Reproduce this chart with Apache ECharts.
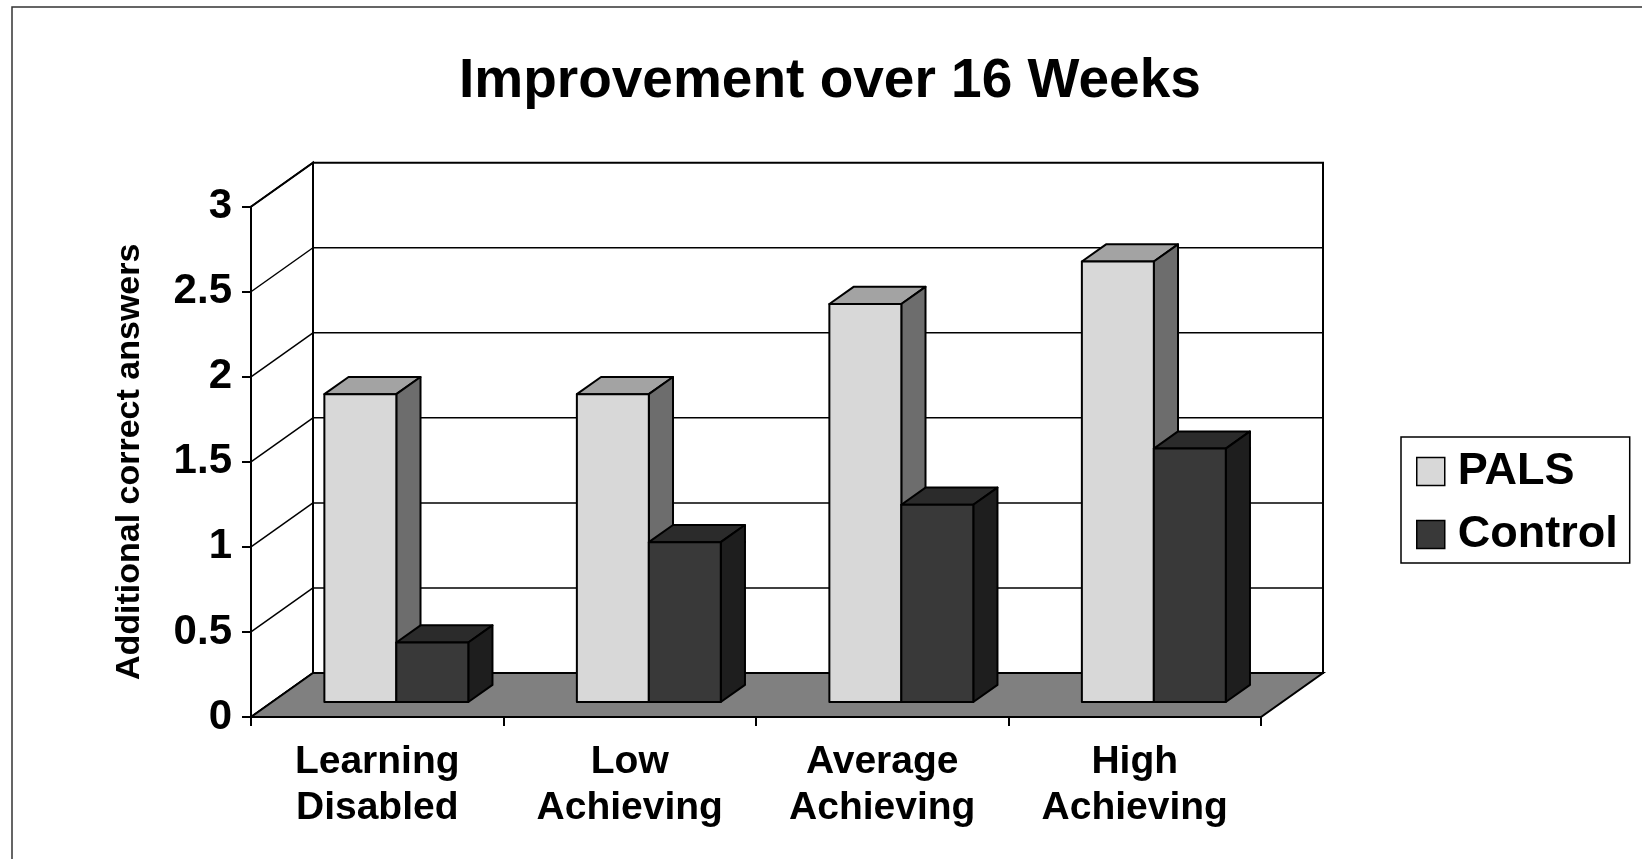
<!DOCTYPE html>
<html>
<head>
<meta charset="utf-8">
<title>Improvement over 16 Weeks</title>
<script src="https://cdn.jsdelivr.net/npm/echarts@6/dist/echarts.min.js"></script>
<style>
html, body { margin: 0; padding: 0; background: #fff; }
#chart { width: 1642px; height: 859px; }
</style>
</head>
<body>
<div id="chart"></div>
<script>
// data
var categories = ['Learning\nDisabled', 'Low\nAchieving', 'Average\nAchieving', 'High\nAchieving'];
var palsValues = [1.81, 1.81, 2.34, 2.59];
var controlValues = [0.35, 0.94, 1.16, 1.49];
var yTicks = [0, 0.5, 1, 1.5, 2, 2.5, 3];

var FONT = '"Liberation Sans", Arial, sans-serif';
// oblique depth of the 3d box (pixels)
var DX = 62, DY = -44;
var BAR_FRONT = 0.34, BAR_BACK = 0.73; // bar depth inside the floor
var BAR_RATIO = 0.285;                 // bar width / category band
var BAR_SHIFT = -2;

function renderWalls(params, api) {
  var cs = params.coordSys;
  var x0 = cs.x, x1 = cs.x + cs.width;
  var yAt = function (v) { return api.coord([0, v])[1]; };
  var y0 = yAt(yTicks[0]), yTop = yAt(yTicks[yTicks.length - 1]);
  var kids = [];
  // back wall
  kids.push({ type: 'rect', shape: { x: x0 + DX, y: yTop + DY, width: x1 - x0, height: y0 - yTop },
    style: { fill: '#fff', stroke: '#000', lineWidth: 2 } });
  // side wall
  kids.push({ type: 'polygon', shape: { points: [[x0, y0], [x0, yTop], [x0 + DX, yTop + DY], [x0 + DX, y0 + DY]] },
    style: { fill: '#fff', stroke: '#000', lineWidth: 2 } });
  // gridlines on both walls
  yTicks.forEach(function (v, i) {
    var y = yAt(v);
    kids.push({ type: 'line', shape: { x1: x0, y1: y, x2: x0 + DX, y2: y + DY },
      style: { stroke: '#000', lineWidth: 1.5 } });
    if (i > 0 && i < yTicks.length - 1) {
      kids.push({ type: 'line', shape: { x1: x0 + DX, y1: y + DY, x2: x1 + DX, y2: y + DY },
        style: { stroke: '#000', lineWidth: 1.5 } });
    }
  });
  // floor
  kids.push({ type: 'polygon', shape: { points: [[x0, y0], [x0 + DX, y0 + DY], [x1 + DX, y0 + DY], [x1, y0]] },
    style: { fill: '#808080', stroke: '#000', lineWidth: 2 } });
  return { type: 'group', children: kids };
}

function barRenderer(pos, front, topC, sideC) {
  return function (params, api) {
    var cat = api.value(0), val = api.value(1);
    var base = api.coord([cat, 0]);
    var top = api.coord([cat, val]);
    var bw = api.size([1, 0])[0] * BAR_RATIO;
    var xl = base[0] - bw + pos * bw + BAR_SHIFT, xr = xl + bw;
    var fx = DX * BAR_FRONT, fy = DY * BAR_FRONT;
    var bx = DX * BAR_BACK, by = DY * BAR_BACK;
    var y0 = base[1], y1 = top[1];
    var ln = { stroke: '#000', lineWidth: 2, lineJoin: 'round' };
    return {
      type: 'group',
      children: [
        { type: 'polygon', shape: { points: [[xl + fx, y1 + fy], [xl + bx, y1 + by], [xr + bx, y1 + by], [xr + fx, y1 + fy]] },
          style: Object.assign({ fill: topC }, ln) },
        { type: 'polygon', shape: { points: [[xr + fx, y1 + fy], [xr + bx, y1 + by], [xr + bx, y0 + by], [xr + fx, y0 + fy]] },
          style: Object.assign({ fill: sideC }, ln) },
        { type: 'rect', shape: { x: xl + fx, y: y1 + fy, width: bw, height: y0 - y1 },
          style: Object.assign({ fill: front }, ln) }
      ]
    };
  };
}

var chart = echarts.init(document.getElementById('chart'), null, { renderer: 'canvas' });

var option = {
  backgroundColor: '#fff',
  animation: false,
  title: {
    text: 'Improvement over 16 Weeks',
    left: 459,
    top: 54,
    padding: 0,
    textStyle: { fontSize: 55, fontWeight: 'bold', color: '#000', fontFamily: FONT }
  },
  graphic: [{
    type: 'rect', silent: true, z: -10,
    shape: { x: 12, y: 7, width: 1700, height: 900 },
    style: { fill: 'none', stroke: '#333', lineWidth: 1.5 }
  }],
  legend: {
    orient: 'vertical',
    left: 1401,
    top: 437,
    padding: [12, 12, 6, 15],
    itemWidth: 28,
    itemHeight: 28,
    itemGap: 18,
    icon: 'rect',
    borderColor: '#000',
    borderWidth: 1.5,
    backgroundColor: '#fff',
    itemStyle: { borderColor: '#000', borderWidth: 1.5 },
    textStyle: { fontSize: 45, lineHeight: 45, fontWeight: 'bold', color: '#000', fontFamily: FONT, padding: [0, 0, 0, 8] },
    data: ['PALS', 'Control']
  },
  grid: { left: 251, right: 381, top: 206.7, bottom: 142 },
  xAxis: {
    type: 'category',
    data: categories,
    z: 5,
    axisLine: { show: true, lineStyle: { color: '#000', width: 2 } },
    axisTick: { show: true, length: 9, lineStyle: { color: '#000', width: 2 } },
    axisLabel: { margin: 22, fontSize: 39, lineHeight: 46, fontWeight: 'bold', color: '#000', fontFamily: FONT, interval: 0 },
    splitLine: { show: false }
  },
  yAxis: {
    type: 'value',
    min: yTicks[0],
    max: yTicks[yTicks.length - 1],
    interval: yTicks[1] - yTicks[0],
    z: 5,
    name: 'Additional correct answers',
    nameLocation: 'middle',
    nameGap: 104,
    nameTextStyle: { fontSize: 34, fontWeight: 'bold', color: '#000', fontFamily: FONT },
    axisLine: { show: true, lineStyle: { color: '#000', width: 2 } },
    axisTick: { show: true, length: 9, lineStyle: { color: '#000', width: 2 } },
    axisLabel: { margin: 19, fontSize: 42, fontWeight: 'bold', color: '#000', fontFamily: FONT },
    splitLine: { show: false }
  },
  series: [
    {
      name: 'walls',
      type: 'custom',
      silent: true,
      z: 1,
      renderItem: renderWalls,
      data: [[0, 0]]
    },
    {
      name: 'PALS',
      type: 'custom',
      z: 2,
      itemStyle: { color: '#d8d8d8' },
      renderItem: barRenderer(0, '#d8d8d8', '#a3a3a3', '#6d6d6d'),
      data: palsValues.map(function (v, i) { return [i, v]; })
    },
    {
      name: 'Control',
      type: 'custom',
      z: 3,
      itemStyle: { color: '#393939' },
      renderItem: barRenderer(1, '#393939', '#2b2b2b', '#1e1e1e'),
      data: controlValues.map(function (v, i) { return [i, v]; })
    }
  ]
};

chart.setOption(option);
</script>
</body>
</html>
